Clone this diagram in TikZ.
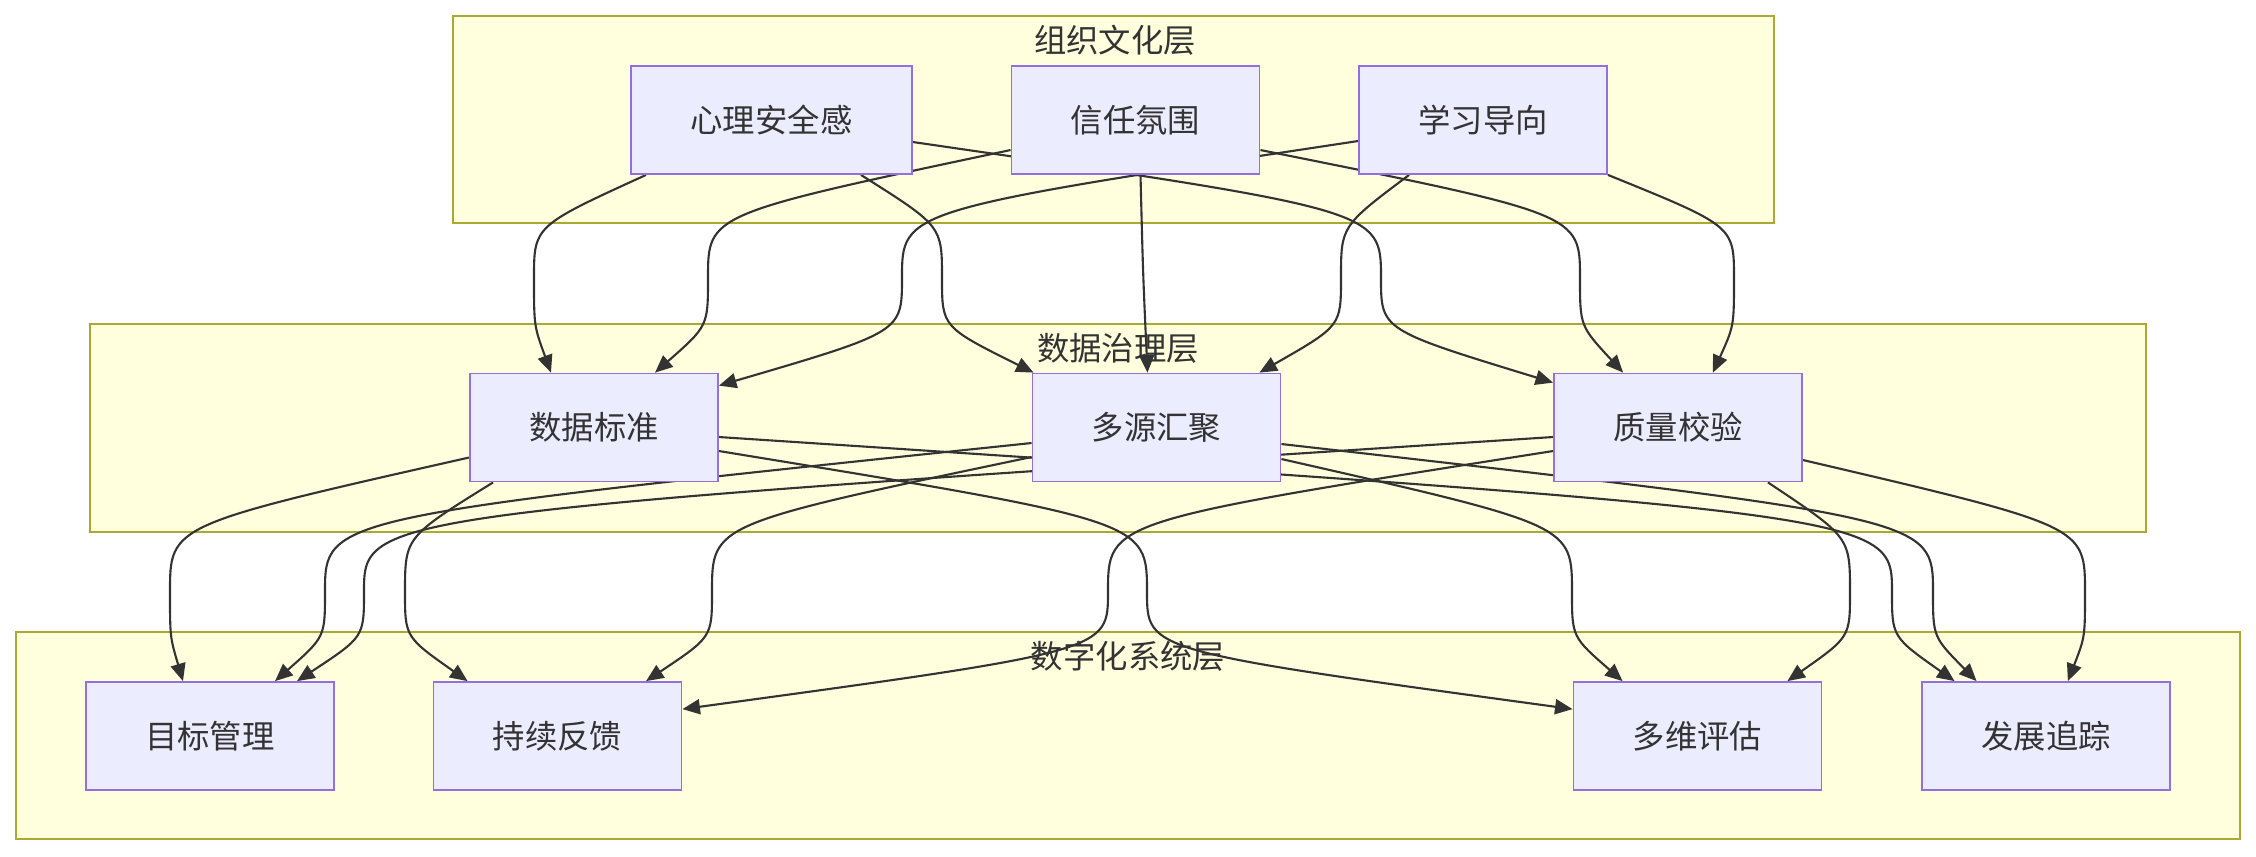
\documentclass[tikz,border=0pt]{standalone}
\usepackage{fontspec}
\setmainfont{Noto Sans CJK SC}
\usetikzlibrary{arrows.meta}
\definecolor{groupfill}{HTML}{FFFFDE}
\definecolor{groupline}{HTML}{AAAA33}
\definecolor{cellfill}{HTML}{ECECFF}
\definecolor{cellline}{HTML}{9370DB}
\definecolor{inkcolor}{HTML}{333333}
\pgfdeclarelayer{back}
\pgfdeclarelayer{links}
\pgfsetlayers{back,links,main}

\begin{document}
\begin{tikzpicture}[x=0.01cm, y=-0.01cm,
    cell/.style={draw=cellline, fill=cellfill, line width=0.5pt, minimum width=2.48cm,
      minimum height=1.08cm, inner sep=0pt, text=inkcolor, font=\fontsize{9.2}{11}\selectfont},
    groupbox/.style={draw=groupline, fill=groupfill, line width=0.55pt},
    grouptitle/.style={inner sep=0pt, text=inkcolor, font=\fontsize{9.2}{11}\selectfont},
    flow/.style={draw=inkcolor, line width=0.6pt, -{Triangle[length=1.75mm,width=1.5mm]}}]
    \useasboundingbox (0,0) rectangle (2256,856);

    % layers
    \begin{pgfonlayer}{back}
      \draw[groupbox] (453,16) rectangle (1774,223);
      \draw[groupbox] (90,324) rectangle (2146,532);
      \draw[groupbox] (16,632) rectangle (2240,839);
    \end{pgfonlayer}
    \node[grouptitle] (culture) at (1115,40) {组织文化层};
    \node[grouptitle] (govern) at (1118,348) {数据治理层};
    \node[grouptitle] (digital) at (1128,656) {数字化系统层};

    \node[cell, minimum width=2.81cm] (ps) at (771.5,120) {心理安全感};
    \node[cell] (tr) at (1135.5,120) {信任氛围};
    \node[cell] (lo) at (1483,120) {学习导向};

    \node[cell] (ds) at (594,427.5) {数据标准};
    \node[cell] (ms) at (1156.5,427.5) {多源汇聚};
    \node[cell] (qv) at (1678,427.5) {质量校验};

    \node[cell] (gm) at (210,736) {目标管理};
    \node[cell] (cf) at (557.5,736) {持续反馈};
    \node[cell] (me) at (1697.5,736) {多维评估};
    \node[cell] (dt) at (2046,736) {发展追踪};

    \begin{pgfonlayer}{links}
      % culture -> governance
      \draw[flow] ([xshift=0.16cm]ps.south west) .. controls (534,226) .. (534,278) .. controls (534,326) .. ([xshift=-0.43cm]ds.north);
      \draw[flow] ([xshift=-0.52cm]ps.south east) .. controls (942,226) .. (942,278) .. controls (942,327) .. ([xshift=0.02cm]ms.north west);
      \draw[flow] ([yshift=-0.22cm]ps.east) .. controls (1381,210) .. (1381,278) .. controls (1381,330) .. ([yshift=-0.1cm]qv.north west);
      \draw[flow] ([yshift=-0.3cm]tr.west) .. controls (708,214) .. (708,278) .. controls (708,326) .. ([xshift=0.61cm]ds.north);
      \draw[flow] ([xshift=0.05cm]tr.south) .. controls (1143,274) .. ([xshift=-0.09cm]ms.north);
      \draw[flow] ([yshift=-0.3cm]tr.east) .. controls (1580,214) .. (1580,278) .. controls (1580,326) .. ([xshift=0.7cm]qv.north west);
      \draw[flow] ([yshift=-0.21cm]lo.west) .. controls (902,210) .. (902,278) .. controls (902,332) .. ([yshift=-0.13cm]ds.north east);
      \draw[flow] ([xshift=0.51cm]lo.south west) .. controls (1341,226) .. (1341,278) .. controls (1341,326) .. ([xshift=-0.22cm]ms.north east);
      \draw[flow] (lo.south east) .. controls (1734,226) .. (1734,278) .. controls (1734,326) .. ([xshift=-0.9cm]qv.north east);
      % governance -> digital
      \draw[flow] ([yshift=-0.3cm]ds.west) .. controls (170,525) .. (170,592) .. controls (170,637) .. ([xshift=-0.27cm]gm.north);
      \draw[flow] ([xshift=0.24cm]ds.south west) .. controls (405,537) .. (405,592) .. controls (405,637) .. ([xshift=0.35cm]cf.north west);
      \draw[flow] ([yshift=-0.235cm]ds.east) .. controls (1147,521) .. (1147,592) .. controls (1147,651) .. ([yshift=-0.28cm]me.north west);
      \draw[flow] ([yshift=-0.095cm]ds.east) .. controls (1892,514) .. (1892,592) .. controls (1892,637) .. ([xshift=0.335cm]dt.north west);
      \draw[flow] ([yshift=-0.155cm]ms.west) .. controls (325,517) .. (325,592) .. controls (325,637) .. ([xshift=0.65cm]gm.north);
      \draw[flow] ([yshift=-0.295cm]ms.west) .. controls (712,524) .. (712,592) .. controls (712,637) .. ([xshift=0.885cm]cf.north);
      \draw[flow] ([yshift=-0.315cm]ms.east) .. controls (1572,525) .. (1572,592) .. controls (1572,637) .. ([xshift=0.5cm]me.north west);
      \draw[flow] ([yshift=-0.165cm]ms.east) .. controls (1933,518) .. (1933,592) .. controls (1933,637) .. ([xshift=0.555cm]dt.north west);
      \draw[flow] ([yshift=-0.095cm]qv.west) .. controls (364,514) .. (364,592) .. controls (364,637) .. ([xshift=0.87cm]gm.north);
      \draw[flow] ([yshift=-0.235cm]qv.west) .. controls (1108,521) .. (1108,592) .. controls (1108,651) .. ([yshift=-0.28cm]cf.north east);
      \draw[flow] ([xshift=-0.35cm]qv.south east) .. controls (1850,537) .. (1850,592) .. controls (1850,637) .. ([xshift=-0.35cm]me.north east);
      \draw[flow] ([yshift=-0.325cm]qv.east) .. controls (2085,526) .. (2085,592) .. controls (2085,637) .. ([xshift=-1.03cm]dt.north east);
    \end{pgfonlayer}
  \end{tikzpicture}
\end{document}
